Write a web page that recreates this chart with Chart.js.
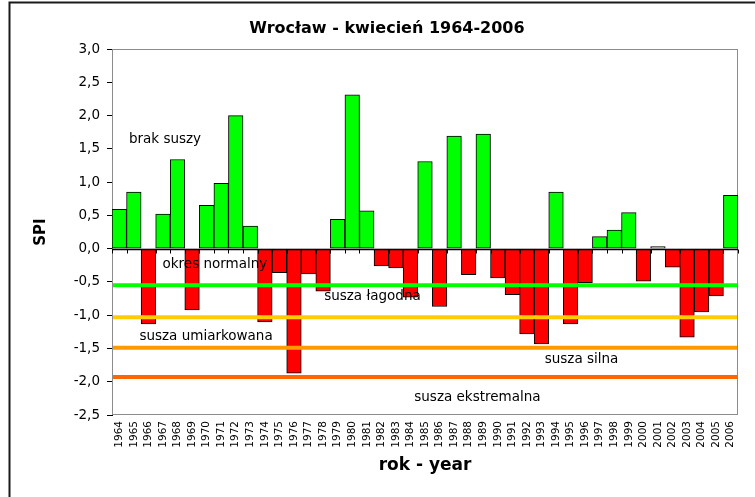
<!DOCTYPE html>
<html>
<head>
<meta charset="utf-8">
<script src="https://cdn.jsdelivr.net/npm/chart.js@4.4.1/dist/chart.umd.min.js"></script>
<style>
  html, body { margin: 0; padding: 0; background: #ffffff; overflow: hidden; }
  #wrap { width: 755px; height: 497px; position: relative; }
</style>
</head>
<body>
<div id="wrap"><canvas id="c" width="755" height="497"></canvas></div>
<script>
// ---- data ----
const years = [1964,1965,1966,1967,1968,1969,1970,1971,1972,1973,1974,1975,1976,1977,1978,1979,1980,1981,1982,1983,1984,1985,1986,1987,1988,1989,1990,1991,1992,1993,1994,1995,1996,1997,1998,1999,2000,2001,2002,2003,2004,2005,2006];
const spi = [0.59,0.85,-1.13,0.52,1.34,-0.92,0.65,0.98,2.00,0.34,-1.10,-0.36,-1.87,-0.38,-0.64,0.44,2.31,0.57,-0.26,-0.29,-0.73,1.31,-0.87,1.69,-0.39,1.72,-0.44,-0.69,-1.28,-1.43,0.85,-1.13,-0.51,0.18,0.28,0.54,-0.49,0.03,-0.28,-1.33,-0.95,-0.71,0.80];
const yTicks = [3.0,2.5,2.0,1.5,1.0,0.5,0.0,-0.5,-1.0,-1.5,-2.0,-2.5];
const thresholds = [-0.55,-1.03,-1.49,-1.93];
const zoneNames = ['brak suszy','okres normalny','susza łagodna','susza umiarkowana','susza silna','susza ekstremalna'];
const zoneNameYear = [3.14,6.57,17.39,5.96,31.75,24.6];   // category index position
const zoneNameSpi = [1.64,-0.24,-0.72,-1.32,-1.67,-2.24];

// ---- styles ----
const thresholdColors = ['#00FF00','#FFCC00','#FF9900','#FF6600'];
const FONT = "'DejaVu Sans', 'Liberation Sans', Arial, sans-serif";

const overlay = {
  id: 'overlay',
  beforeDraw(chart) {
    const ctx = chart.ctx;
    ctx.save();
    ctx.fillStyle = '#ffffff';
    ctx.fillRect(0, 0, chart.width, chart.height);
    // outer frame (top & left edges visible)
    ctx.strokeStyle = '#1a1a1a';
    ctx.lineWidth = 2;
    ctx.beginPath();
    ctx.moveTo(9.5, chart.height + 5);
    ctx.lineTo(9.5, 2.5);
    ctx.lineTo(chart.width + 5, 2.5);
    ctx.stroke();
    ctx.restore();
  },
  beforeDatasetsDraw(chart) {
    const {ctx, chartArea: a} = chart;
    ctx.save();
    ctx.strokeStyle = '#8c8c8c';
    ctx.lineWidth = 1;
    ctx.strokeRect(a.left + 0.5, a.top + 0.5, a.right - a.left - 1, a.bottom - a.top - 1);
    ctx.restore();
  },
  afterDatasetsDraw(chart) {
    const {ctx, chartArea: a, scales: {x, y}} = chart;
    ctx.save();
    // zero line + category ticks
    const y0 = Math.round(y.getPixelForValue(0)) + 0.5;
    ctx.strokeStyle = '#000000';
    ctx.lineWidth = 1.5;
    ctx.beginPath();
    ctx.moveTo(a.left, y0);
    ctx.lineTo(a.right, y0);
    ctx.stroke();
    ctx.lineWidth = 1;
    ctx.beginPath();
    for (let i = 0; i <= years.length; i++) {
      const px = Math.round(x.getPixelForValue(i - 0.5)) + 0.5;
      ctx.moveTo(px, y0);
      ctx.lineTo(px, y0 + 4);
    }
    ctx.stroke();
    // threshold lines
    ctx.lineWidth = 4;
    thresholds.forEach((t, i) => {
      const py = y.getPixelForValue(t);
      ctx.strokeStyle = thresholdColors[i];
      ctx.beginPath();
      ctx.moveTo(a.left + 1, py);
      ctx.lineTo(a.right - 1, py);
      ctx.stroke();
    });
    // zone labels
    ctx.fillStyle = '#000000';
    ctx.font = '13.5px ' + FONT;
    ctx.textAlign = 'center';
    ctx.textBaseline = 'middle';
    zoneNames.forEach((n, i) => {
      ctx.fillText(n, x.getPixelForValue(zoneNameYear[i]), y.getPixelForValue(zoneNameSpi[i]));
    });
    // title
    ctx.font = 'bold 16px ' + FONT;
    ctx.fillText('Wrocław - kwiecień 1964-2006', 387, 29);
    ctx.restore();
  }
};

new Chart(document.getElementById('c'), {
  type: 'bar',
  data: {
    labels: years.map(String),
    datasets: [{
      data: spi,
      backgroundColor: spi.map(v => v >= 0 ? '#00FF00' : '#FF0000'),
      borderColor: '#000000',
      borderWidth: 1,
      borderSkipped: false,
      barPercentage: 1.0,
      categoryPercentage: 1.0
    }]
  },
  options: {
    responsive: false,
    animation: false,
    devicePixelRatio: 1,
    layout: { padding: { top: 49, left: 0, right: 17, bottom: 0 } },
    plugins: { legend: { display: false }, tooltip: { enabled: false }, title: { display: false } },
    scales: {
      x: {
        type: 'category',
        offset: true,
        grid: { display: false, drawTicks: false },
        border: { display: false },
        ticks: {
          autoSkip: false, minRotation: 90, maxRotation: 90, padding: 6,
          color: '#000000', font: { family: FONT, size: 10.5 }
        },
        title: {
          display: true, text: 'rok - year', color: '#000000',
          font: { family: FONT, size: 17, weight: 'bold' }, padding: { top: 0, bottom: 21 }
        },
        afterFit(s) { s.height = 82; }
      },
      y: {
        min: -2.5, max: 3.0,
        afterBuildTicks(s) { s.ticks = yTicks.map(v => ({ value: v })); },
        grid: { drawOnChartArea: false, drawTicks: true, tickLength: 5, color: '#000000' },
        border: { display: true, color: '#000000', width: 1 },
        ticks: {
          padding: 7, color: '#000000', font: { family: FONT, size: 13.5 },
          callback: v => v.toFixed(1).replace('.', ',')
        },
        title: {
          display: true, text: 'SPI', color: '#000000',
          font: { family: FONT, size: 15, weight: 'bold' }, padding: { top: 32, bottom: 0 }
        },
        afterFit(s) { s.width = 112; }
      }
    }
  },
  plugins: [overlay]
});
</script>
</body>
</html>
